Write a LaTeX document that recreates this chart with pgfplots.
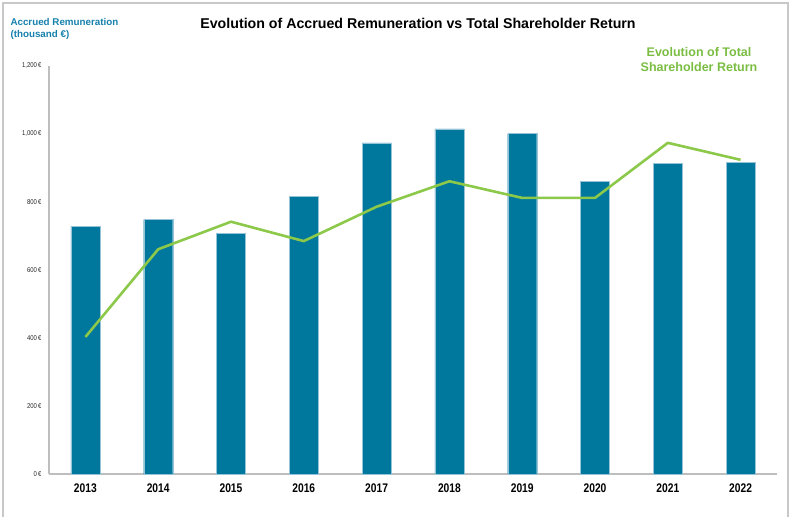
\documentclass[border=0pt]{standalone}
\usepackage{pgfplots}
\pgfplotsset{compat=1.18}
\usepackage{fontspec}
\setmainfont{Liberation Sans}
\newfontfamily\narrowbold[FakeStretch=0.82]{Liberation Sans Bold}
\newfontfamily\narrow[FakeStretch=0.85]{Liberation Sans}
\definecolor{barblue}{RGB}{0,119,157}
\definecolor{baredge}{RGB}{150,195,215}
\definecolor{tsrgreen}{RGB}{140,201,74}
\definecolor{tsrtext}{RGB}{122,189,66}
\definecolor{labblue}{RGB}{22,128,172}
\definecolor{axgray}{RGB}{190,190,190}
\definecolor{framegray}{RGB}{200,200,200}
\begin{document}
\begin{tikzpicture}
\path (-49bp,-43bp) rectangle (740bp,474bp);
\draw[framegray,line width=1.2bp] (-46bp,-43bp) -- (-46bp,471bp) -- (739bp,471bp) -- (739bp,-43bp);
\begin{axis}[
  scale only axis,
  width=728bp, height=408bp,
  xmin=-0.5, xmax=9.5,
  ymin=0, ymax=1200,
  axis x line=bottom, axis y line=left,
  axis line style={axgray, line width=1.3bp, -},
  xtick={0,...,9},
  xticklabels={2013,2014,2015,2016,2017,2018,2019,2020,2021,2022},
  ytick={0,200,...,1200},
  yticklabels={0\,€,200\,€,400\,€,600\,€,800\,€,{1,000\,€},{1,200\,€}},
  major tick length=0pt,
  xticklabel style={font=\narrowbold\fontsize{12.5bp}{14bp}\selectfont, text=black, yshift=-6bp},
  yticklabel style={font=\narrow\fontsize{7bp}{8bp}\selectfont, text=black!85, xshift=-4bp},
  clip=false,
]
\addplot[ybar, bar width=29bp, fill=barblue, draw=baredge, line width=0.4bp] coordinates {
(0,728) (1,748) (2,708) (3,816) (4,974) (5,1015) (6,1001) (7,860) (8,913) (9,916)
};
\addplot[tsrgreen, line width=2.6bp, mark=none, line join=round] coordinates {
(0,403) (1,661) (2,742) (3,685) (4,786) (5,861) (6,812) (7,812) (8,974) (9,924)
};
\end{axis}
\node[font=\bfseries\fontsize{14.2bp}{16bp}\selectfont] at (369bp,451bp) {Evolution of Accrued Remuneration vs Total Shareholder Return};
\node[anchor=west, font=\bfseries\fontsize{9.8bp}{12.5bp}\selectfont, text=labblue, align=left] at (-42bp,445bp) {Accrued Remuneration\\(thousand €)};
\node[font=\bfseries\fontsize{12.5bp}{15bp}\selectfont, text=tsrtext, align=center] at (650bp,414.5bp) {Evolution of Total\\Shareholder Return};
\end{tikzpicture}
\end{document}
